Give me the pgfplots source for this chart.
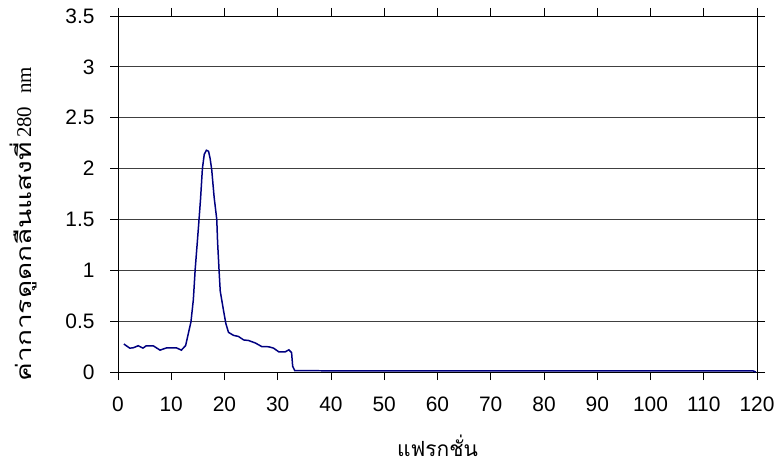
\documentclass[border=0pt]{standalone}
\usepackage{fontspec}
\setmainfont{Liberation Sans}
\newfontfamily\thaifont[Script=Thai]{Loma}
\newfontfamily\thaiwide[Script=Thai,FakeStretch=1.34]{Loma}
\newfontfamily\seriffont{Liberation Serif}
\usepackage{pgfplots}
\pgfplotsset{compat=1.18}
\definecolor{navyline}{RGB}{0,0,128}

\begin{document}
\begin{tikzpicture}
\begin{axis}[
    scale only axis,
    width=639bp, height=356bp,
    xmin=0, xmax=120, ymin=0, ymax=3.5,
    xtick={0,10,...,120},
    ytick={0,0.5,...,3.5},
    ymajorgrids=true,
    grid style={black!75, line width=0.8pt},
    axis line style={black, line width=0.9pt},
    tick style={black, line width=0.8pt},
    tick align=outside,
    major tick length=8bp,
    tick label style={font=\fontsize{21}{24}\selectfont},
    /pgf/number format/assume math mode=true,
    xticklabel style={yshift=-13bp},
    yticklabel style={xshift=-12bp},
    xlabel={\thaifont\fontsize{21}{24}\selectfont แฟรกชั่น},
    ylabel={{\thaiwide\fontsize{21}{24}\selectfont ค่าการดูดกลืนแสงที่}\hspace{0.4em}{\seriffont\fontsize{21}{24}\selectfont 280\hspace{0.6em}nm}},
    xlabel style={yshift=-17bp},
    ylabel style={at={(ticklabel cs:0.415)}, yshift=22bp},
]
\addplot[navyline, line width=1.5pt] coordinates {
(1.1,0.275) (2.2,0.235) (2.8,0.237) (3.8,0.258) (4.7,0.235) (5.3,0.258)
(6.6,0.258) (7.9,0.215) (9.1,0.237) (11.0,0.237) (11.9,0.215) (12.7,0.26)
(13.7,0.493) (14.15,0.711) (14.5,1.013) (15.1,1.416) (15.5,1.70) (15.85,2.0)
(16.2,2.14) (16.6,2.18) (17.0,2.17) (17.3,2.10) (17.6,1.99) (18.05,1.72)
(18.55,1.50) (18.7,1.28) (19.0,0.98) (19.2,0.795) (19.8,0.61) (20.25,0.477)
(20.75,0.39) (21.7,0.36) (22.6,0.35) (23.6,0.315) (24.5,0.31) (25.8,0.285)
(27.0,0.25) (28.3,0.248) (29.2,0.235) (30.2,0.198) (31.4,0.198) (32.1,0.218)
(32.6,0.19) (32.8,0.057) (33.2,0.013) (40,0.012) (60,0.012) (80,0.012)
(100,0.012) (119.2,0.012) (119.8,0.0)
};
\end{axis}
\path ([xshift=-118bp,yshift=-96bp]current axis.south west) rectangle ([xshift=24bp,yshift=16bp]current axis.north east);
\end{tikzpicture}
\end{document}
